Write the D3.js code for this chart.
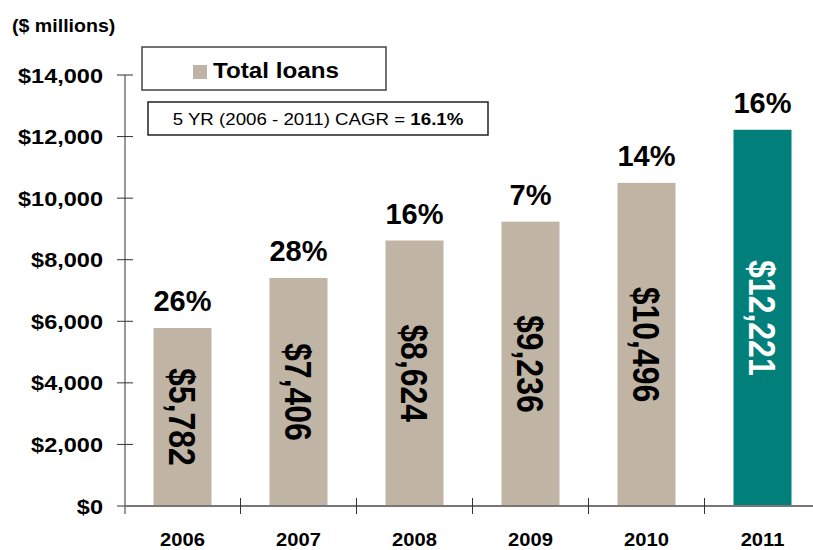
<!DOCTYPE html>
<html><head><meta charset="utf-8">
<script src="https://cdn.jsdelivr.net/npm/d3@7"></script>
<style>body{margin:0;background:#fff}svg{display:block}text{font-family:Arial,"Liberation Sans",sans-serif}</style>
</head><body>
<script>
const years = ["2006","2007","2008","2009","2010","2011"];
const loans = [5782, 7406, 8624, 9236, 10496, 12221];
const growth = ["26%","28%","16%","7%","14%","16%"];
const yTicks = [0,2000,4000,6000,8000,10000,12000,14000];
const unitLabel = "($ millions)";
const legendLabel = "Total loans";
const cagrText = "5 YR (2006 - 2011) CAGR = ";
const cagrValue = "16.1%";

const W = 813, H = 550;
const tan = "#C0B4A5", teal = "#007F7B";
const svg = d3.select("body").append("svg").attr("width", W).attr("height", H);

const x = d3.scaleBand().domain(years).range([124.5, 820.5]).paddingInner(0.5).paddingOuter(0.25);
const y = d3.scaleLinear().domain([0, 14000]).range([506, 75]);

// y axis
const yAxis = svg.append("g").attr("transform", "translate(125,0)");
yAxis.append("line").attr("x1",0).attr("x2",0).attr("y1",y(14000)).attr("y2",514).attr("stroke","#333").attr("stroke-width",1);
yAxis.selectAll("line.t").data(yTicks).join("line").attr("class","t")
  .attr("x1",-8).attr("x2",8).attr("y1",d=>y(d)).attr("y2",d=>y(d)).attr("stroke","#333").attr("stroke-width",1);
yAxis.selectAll("text").data(yTicks).join("text")
  .attr("transform", d=>`translate(-22,${y(d)+7.5}) scale(1.12,1)`)
  .attr("text-anchor","end").attr("font-weight","bold").attr("font-size",21)
  .text(d=>"$"+d3.format(",")(d));

// bars
svg.selectAll("rect.bar").data(years).join("rect").attr("class","bar")
  .attr("x", d=>x(d)).attr("width", x.bandwidth())
  .attr("y", (d,i)=>y(loans[i])).attr("height", (d,i)=>y(0)-y(loans[i]))
  .attr("fill", (d,i)=> i===years.length-1 ? teal : tan);

// x axis
svg.append("line").attr("x1",125).attr("x2",W).attr("y1",506).attr("y2",506).attr("stroke","#777").attr("stroke-width",2);
svg.selectAll("line.xt").data(years.slice(0,-1)).join("line").attr("class","xt")
  .attr("x1",d=>x(d)+x.bandwidth()+ (x.step()-x.bandwidth())/2).attr("x2",d=>x(d)+x.bandwidth()+ (x.step()-x.bandwidth())/2)
  .attr("y1",498).attr("y2",514).attr("stroke","#333").attr("stroke-width",1);
svg.selectAll("text.yr").data(years).join("text").attr("class","yr")
  .attr("transform", d=>`translate(${x(d)+x.bandwidth()/2},546) scale(1.12,1.05)`)
  .attr("text-anchor","middle").attr("font-weight","bold").attr("font-size",18).text(d=>d);

// growth labels
svg.selectAll("text.g").data(years).join("text").attr("class","g")
  .attr("x", d=>x(d)+x.bandwidth()/2).attr("y",(d,i)=>y(loans[i])-17)
  .attr("text-anchor","middle").attr("font-weight","bold").attr("font-size",29).text((d,i)=>growth[i]);

// value labels (rotated)
svg.selectAll("text.v").data(years).join("text").attr("class","v")
  .attr("transform",(d,i)=>`translate(${x(d)+x.bandwidth()/2},${(y(loans[i])+y(0))/2}) rotate(90) scale(1,1.15)`)
  .attr("text-anchor","middle").attr("dy","0.36em").attr("font-weight","bold").attr("font-size",32)
  .attr("fill",(d,i)=> i===years.length-1 ? "#fff" : "#000")
  .text((d,i)=>"$"+d3.format(",")(loans[i]));

// unit label
svg.append("text").attr("transform","translate(12,32) scale(1.12,1)").attr("font-weight","bold").attr("font-size",17.5).text(unitLabel);

// legend
svg.append("rect").attr("x",142).attr("y",47).attr("width",244).attr("height",43).attr("fill","#fff").attr("stroke","#444").attr("stroke-width",1.5);
svg.append("rect").attr("x",193).attr("y",65).attr("width",14).attr("height",14).attr("fill",tan);
svg.append("text").attr("transform","translate(213,78) scale(1.1,1)").attr("font-weight","bold").attr("font-size",22).text(legendLabel);

// CAGR box
svg.append("rect").attr("x",148).attr("y",102).attr("width",340).attr("height",33).attr("fill","#fff").attr("stroke","#222").attr("stroke-width",1.5);
const ct = svg.append("text").attr("transform","translate(318,125) scale(1.1,1)").attr("text-anchor","middle").attr("font-size",17);
ct.append("tspan").text(cagrText);
ct.append("tspan").attr("font-weight","bold").text(cagrValue);
</script>
</body></html>
